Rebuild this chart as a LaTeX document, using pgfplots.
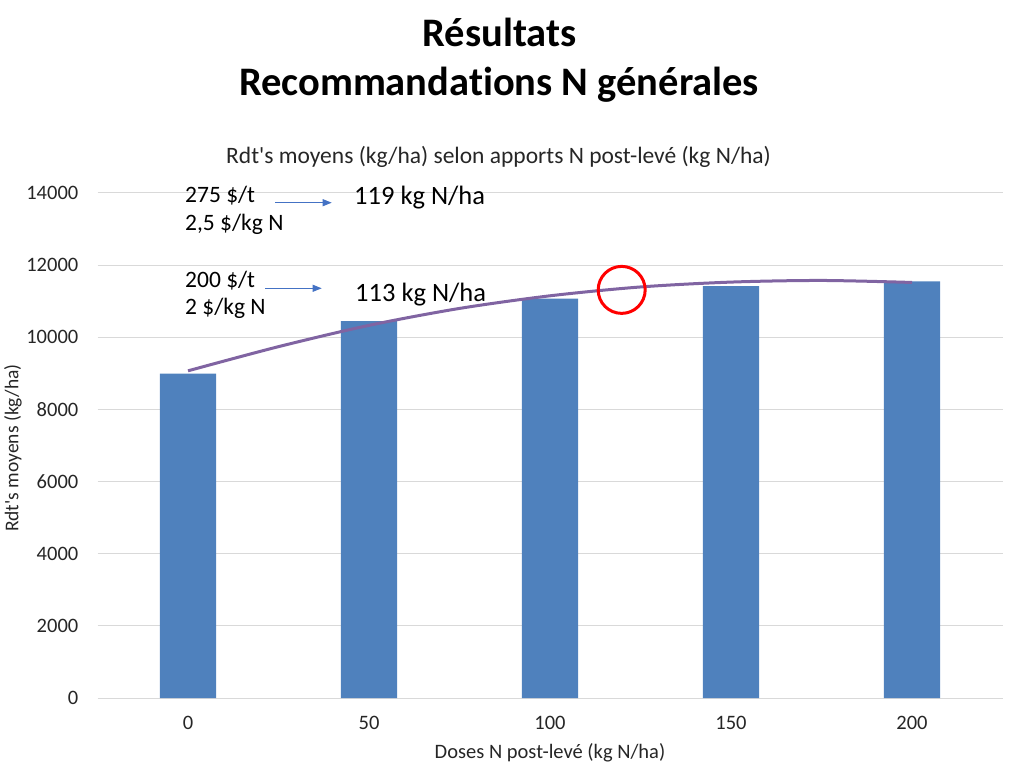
\documentclass[border=0pt]{standalone}
\usepackage{pgfplots}
\pgfplotsset{compat=1.18}
\usepackage{fontspec}
\setmainfont{Carlito}[Ligatures={NoCommon}]
\usetikzlibrary{arrows.meta}
\definecolor{barblue}{RGB}{79,129,189}
\definecolor{curvepurple}{RGB}{128,100,162}
\definecolor{arrowblue}{RGB}{68,114,196}
\definecolor{gridgray}{RGB}{217,217,217}
\begin{document}
\begin{tikzpicture}[x=1pt,y=1pt]
\path[use as bounding box] (0,0) rectangle (1019,768);
\begin{axis}[
  at={(97.5pt,70pt)}, anchor=south west,
  width=905pt, height=505pt, scale only axis,
  xmin=-0.5, xmax=4.5, ymin=0, ymax=14000,
  xtick={0,1,2,3,4}, xticklabels={0,50,100,150,200},
  ytick={0,2000,4000,6000,8000,10000,12000,14000},
  scaled y ticks=false,
  /pgf/number format/1000 sep={},
  /pgf/number format/assume math mode=true,
  ymajorgrids, grid style={draw=gridgray, line width=1pt},
  axis line style={draw=none},
  major tick length=0pt,
  tick label style={font=\fontsize{20.5}{24}\selectfont, text=black!85},
  yticklabel style={anchor=east, inner sep=0pt, xshift=-19pt},
  xticklabel style={anchor=north, inner sep=0pt, yshift=-18pt},
  clip=false,
]
\addplot[ybar, bar width=0.31, fill=barblue, draw=none] coordinates {
  (0,8990) (1,10450) (2,11070) (3,11420) (4,11550)
};
\addplot[smooth, color=curvepurple, line width=3pt, no marks] coordinates {
  (0,9070) (0.5,9740) (1,10330) (1.5,10800) (2,11150) (2.5,11395) (3,11530) (3.5,11575) (4,11520)
};
\addplot[only marks, mark=o, mark size=23.5pt, mark options={draw=red, line width=3pt}] coordinates {
  (2.396,11314)
};
\end{axis}
% titles
\node[anchor=base, font=\bfseries\fontsize{40.5}{46}\selectfont] at (499.5,721) {Résultats};
\node[anchor=base, font=\bfseries\fontsize{40.5}{46}\selectfont] at (499,672) {Recommandations N générales};
\node[anchor=base, font=\fontsize{23.5}{28}\selectfont, text=black!85] at (498.5,604) {Rdt\textquotesingle s moyens (kg/ha) selon apports N post-levé (kg N/ha)};
\node[anchor=base, font=\fontsize{20.5}{24}\selectfont, text=black!85] at (550,10) {Doses N post-levé (kg N/ha)};
\node[anchor=center, rotate=90, font=\fontsize{19.5}{23}\selectfont, text=black!85] at (13,320) {Rdt\textquotesingle s moyens (kg/ha)};
% annotations
\node[anchor=base west, inner sep=0pt, font=\fontsize{23.5}{28}\selectfont] at (185,565) {275 \$/t};
\node[anchor=base west, inner sep=0pt, font=\fontsize{23.5}{28}\selectfont] at (185,537) {2,5 \$/kg N};
\node[anchor=base west, inner sep=0pt, font=\fontsize{23.5}{28}\selectfont] at (185,480) {200 \$/t};
\node[anchor=base west, inner sep=0pt, font=\fontsize{23.5}{28}\selectfont] at (185,453) {2 \$/kg N};
\node[anchor=base west, inner sep=0pt, font=\fontsize{26.5}{31}\selectfont] at (354,563) {119 kg N/ha};
\node[anchor=base west, inner sep=0pt, font=\fontsize{26.5}{31}\selectfont] at (355,466) {113 kg N/ha};
\draw[arrowblue, line width=1pt, -{Triangle[length=9pt,width=7pt]}] (275,565.3) -- (331.7,565.3);
\draw[arrowblue, line width=1pt, -{Triangle[length=9pt,width=7pt]}] (265,479.7) -- (321.7,479.7);
\end{tikzpicture}
\end{document}
